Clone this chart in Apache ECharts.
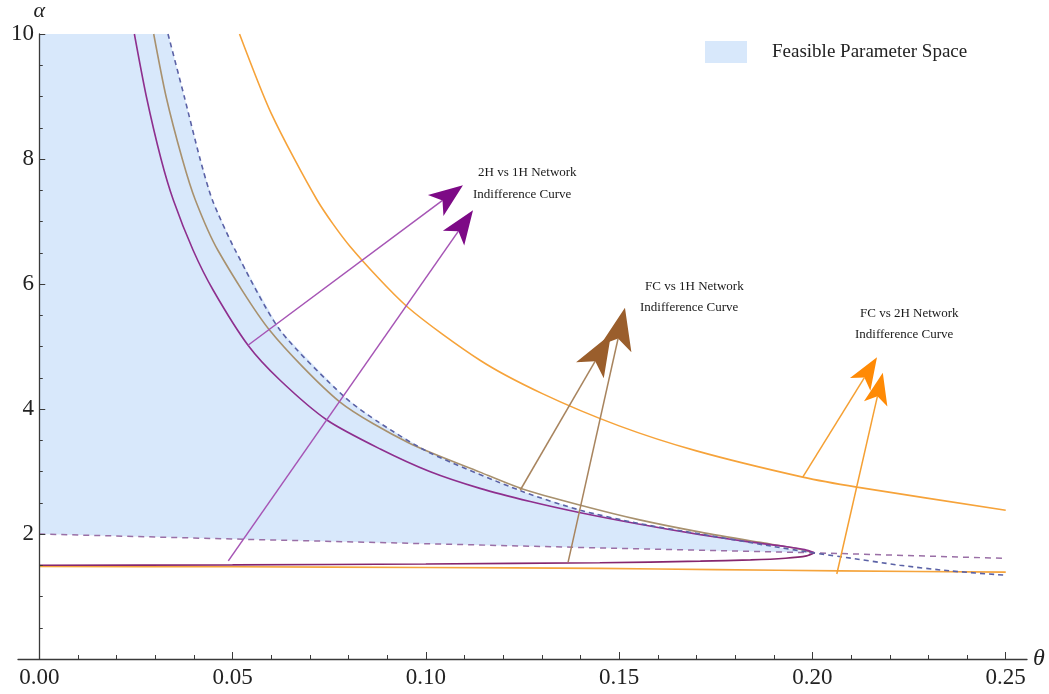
<!DOCTYPE html>
<html>
<head>
<meta charset="utf-8">
<script src="https://cdn.jsdelivr.net/npm/echarts@6/dist/echarts.min.js"></script>
<style>
  html, body { margin: 0; padding: 0; background: #ffffff; }
  #chart { width: 1049px; height: 694px; }
</style>
</head>
<body>
<div id="chart"></div>
<script>
// ---- curves, as [theta, alpha] pairs ----
// 2H vs 1H indifference curve, upper branch down to the tip
const curve2Hvs1HUpper = [
  [0.0246, 10], [0.0277, 9.0], [0.0315, 8.0], [0.0347, 7.34], [0.0398, 6.54], [0.0450, 5.90],
  [0.0540, 5.02], [0.0623, 4.46], [0.0745, 3.82], [0.0882, 3.36], [0.1010, 3.00], [0.1140, 2.73],
  [0.1270, 2.52], [0.1400, 2.34], [0.1550, 2.16], [0.1710, 1.99], [0.1840, 1.87], [0.1930, 1.80],
  [0.1980, 1.75], [0.2005, 1.70]
];
// 2H vs 1H indifference curve, lower branch from the tip back to theta = 0
const curve2Hvs1HLower = [
  [0.2005, 1.70], [0.1985, 1.650], [0.1930, 1.612], [0.1840, 1.585], [0.1710, 1.565], [0.1450, 1.540],
  [0.1000, 1.520], [0.0500, 1.505], [0.0000, 1.500]
];
// FC vs 1H indifference curve
const curveFCvs1H = [
  [0.0296, 10], [0.0328, 9.0], [0.0370, 8.0], [0.0404, 7.34], [0.0462, 6.54], [0.0596, 5.26],
  [0.0778, 4.11], [0.0955, 3.46], [0.1140, 2.99], [0.1250, 2.72], [0.1400, 2.46], [0.1550, 2.23],
  [0.1710, 2.03], [0.1860, 1.87], [0.1950, 1.78], [0.2005, 1.70]
];
// dashed upper boundary of the feasible region
const boundaryUpper = [
  [0.0333, 10], [0.0375, 9.0], [0.0416, 8.0], [0.0448, 7.34], [0.0507, 6.54], [0.0623, 5.26],
  [0.0790, 4.19], [0.0880, 3.78], [0.1010, 3.30], [0.1250, 2.68], [0.1400, 2.38], [0.1550, 2.17],
  [0.1710, 2.00], [0.1880, 1.82], [0.2000, 1.70], [0.2070, 1.64], [0.2226, 1.50], [0.2355, 1.41],
  [0.2500, 1.34]
];
// dashed lower boundary of the feasible region
const boundaryLower = [
  [0.00, 2.00], [0.05, 1.92], [0.10, 1.845], [0.15, 1.77], [0.20, 1.70], [0.25, 1.61]
];
// FC vs 2H indifference curve, upper branch
const curveFCvs2H = [
  [0.0518, 10], [0.0600, 8.73], [0.0719, 7.34], [0.0804, 6.60], [0.0951, 5.64], [0.1140, 4.78],
  [0.1300, 4.25], [0.1500, 3.73], [0.1700, 3.33], [0.1975, 2.91], [0.2115, 2.75], [0.2500, 2.38]
];
// FC vs 2H indifference curve, lower branch
const floorFCvs2H = [
  [0.000, 1.48], [0.050, 1.475], [0.100, 1.465], [0.145, 1.45], [0.175, 1.43], [0.207, 1.41], [0.250, 1.39]
];

// ---- ticks ----
const xMajorTicks = [0, 0.05, 0.10, 0.15, 0.20, 0.25];
const xMinorTicks = [0.01, 0.02, 0.03, 0.04, 0.06, 0.07, 0.08, 0.09, 0.11, 0.12, 0.13, 0.14,
                     0.16, 0.17, 0.18, 0.19, 0.21, 0.22, 0.23, 0.24];

// ---- callouts: [from theta, from alpha, to theta, to alpha] ----
const arrows2Hvs1H = [[0.0540, 5.02, 0.1096, 7.58], [0.0489, 1.57, 0.1122, 7.18]];
const arrowsFCvs1H = [[0.1244, 2.70, 0.1479, 5.20], [0.1368, 1.55, 0.1515, 5.62]];
const arrowsFCvs2H = [[0.1975, 2.91, 0.2167, 4.83], [0.2063, 1.36, 0.2182, 4.58]];
const notes2Hvs1H = [['2H vs 1H Network', 0.1135, 7.776], ['Indifference Curve', 0.1122, 7.424]];
const notesFCvs1H = [['FC vs 1H Network', 0.1567, 5.952], ['Indifference Curve', 0.1554, 5.616]];
const notesFCvs2H = [['FC vs 2H Network', 0.2123, 5.520], ['Indifference Curve', 0.2110, 5.184]];

const SERIF = '"Liberation Serif", "Times New Roman", serif';

function arrowSeries(data, lineColor, headColor, headLen, headWidth) {
  return {
    type: 'custom',
    silent: true,
    z: 6,
    data: data,
    renderItem: function (params, api) {
      const p0 = api.coord([api.value(0), api.value(1)]);
      const p1 = api.coord([api.value(2), api.value(3)]);
      const dx = p1[0] - p0[0], dy = p1[1] - p0[1];
      const len = Math.hypot(dx, dy);
      const ux = dx / len, uy = dy / len, nx = -uy, ny = ux;
      const w = headWidth / 2, notch = headLen * 0.75;
      const bx = p1[0] - ux * headLen, by = p1[1] - uy * headLen;
      return {
        type: 'group',
        children: [
          { type: 'line',
            shape: { x1: p0[0], y1: p0[1], x2: p1[0] - ux * notch, y2: p1[1] - uy * notch },
            style: { stroke: lineColor, lineWidth: 1.5 } },
          { type: 'polygon',
            shape: { points: [p1, [bx + nx * w, by + ny * w],
                              [p1[0] - ux * notch, p1[1] - uy * notch],
                              [bx - nx * w, by - ny * w]] },
            style: { fill: headColor } }
        ]
      };
    }
  };
}

function noteSeries(data) {
  return {
    type: 'custom',
    silent: true,
    z: 7,
    data: data,
    renderItem: function (params, api) {
      const item = data[params.dataIndex];
      const p = api.coord([item[1], item[2]]);
      return {
        type: 'text',
        x: p[0], y: p[1],
        style: { text: item[0], fill: '#1a1a1a', font: '13px ' + SERIF,
                 textAlign: 'left', textVerticalAlign: 'middle' }
      };
    },
    encode: { x: 1, y: 2 }
  };
}

const lineBase = { type: 'line', showSymbol: false, symbol: 'none', silent: true, smooth: 0.25, z: 4 };

const chart = echarts.init(document.getElementById('chart'), null, { renderer: 'canvas' });

chart.setOption({
  animation: false,
  backgroundColor: '#ffffff',
  grid: { left: 18, right: 22, top: 34, bottom: 35, containLabel: false, outerBoundsMode: 'none' },
  legend: {
    data: ['Feasible Parameter Space'],
    left: 700, top: 36,
    icon: 'rect', itemWidth: 42, itemHeight: 22,
    selectedMode: false,
    textStyle: { fontFamily: SERIF, fontSize: 19, color: '#222222', padding: [0, 0, 0, 20] }
  },
  xAxis: [{
    type: 'value', min: -0.0055, max: 0.2555, z: 8,
    name: 'θ', nameLocation: 'end', nameGap: 6,
    nameTextStyle: { fontFamily: SERIF, fontSize: 24, fontStyle: 'italic', color: '#222222',
                     verticalAlign: 'middle' },
    axisLine: { onZero: false, lineStyle: { color: '#3a3a3a', width: 1.3 } },
    axisTick: { inside: true, length: 7, customValues: xMajorTicks, lineStyle: { color: '#3a3a3a' } },
    axisLabel: { customValues: xMajorTicks, margin: 7, color: '#222222', fontFamily: SERIF, fontSize: 23,
                 formatter: function (v) { return v.toFixed(2); } },
    splitLine: { show: false }
  }, {
    type: 'value', min: -0.0055, max: 0.2555, position: 'bottom', z: 8,
    axisLine: { show: false, onZero: false },
    axisTick: { inside: true, length: 4, customValues: xMinorTicks, lineStyle: { color: '#3a3a3a' } },
    axisLabel: { show: false },
    splitLine: { show: false }
  }],
  yAxis: {
    type: 'value', min: 0, max: 10, interval: 2, z: 8,
    name: 'α', nameLocation: 'end', nameGap: 8,
    nameTextStyle: { fontFamily: SERIF, fontSize: 22, fontStyle: 'italic', color: '#222222' },
    axisLine: { show: true, onZero: true, lineStyle: { color: '#3a3a3a', width: 1.3 } },
    axisTick: { show: true, inside: true, length: 6, lineStyle: { color: '#3a3a3a' } },
    minorTick: { show: true, splitNumber: 4, length: 3.5, lineStyle: { color: '#3a3a3a' } },
    axisLabel: { margin: -16, color: '#222222', fontFamily: SERIF, fontSize: 23,
                 formatter: function (v) { return v === 0 ? '' : String(v); } },
    splitLine: { show: false }
  },
  series: [
    {
      // feasible region: between the two dashed boundaries, left of the tip
      name: 'Feasible Parameter Space',
      type: 'custom',
      silent: true,
      z: 1,
      itemStyle: { color: '#d8e8fb' },
      data: [0],
      renderItem: function (params, api) {
        const pts = [api.coord([0, 10])];
        for (const p of boundaryUpper) { if (p[0] <= 0.2) pts.push(api.coord(p)); }
        for (let i = boundaryLower.length - 1; i >= 0; i--) {
          if (boundaryLower[i][0] <= 0.2) pts.push(api.coord(boundaryLower[i]));
        }
        return { type: 'polygon', shape: { points: pts }, style: { fill: '#d8e8fb' } };
      }
    },
    Object.assign({}, lineBase, { name: 'Lower boundary', data: boundaryLower, smooth: false,
      lineStyle: { color: '#9a6fa6', width: 1.5, type: [6, 5] } }),
    Object.assign({}, lineBase, { name: 'FC vs 2H lower', data: floorFCvs2H,
      lineStyle: { color: '#f5a43c', width: 1.6 } }),
    Object.assign({}, lineBase, { name: 'FC vs 2H', data: curveFCvs2H,
      lineStyle: { color: '#f6a33a', width: 1.6 } }),
    Object.assign({}, lineBase, { name: 'FC vs 1H', data: curveFCvs1H,
      lineStyle: { color: '#a8916e', width: 1.6 } }),
    Object.assign({}, lineBase, { name: '2H vs 1H lower', data: curve2Hvs1HLower,
      lineStyle: { color: '#86266e', width: 1.7 } }),
    Object.assign({}, lineBase, { name: '2H vs 1H', data: curve2Hvs1HUpper,
      lineStyle: { color: '#8e2f8e', width: 1.6 } }),
    Object.assign({}, lineBase, { name: 'Upper boundary', data: boundaryUpper,
      lineStyle: { color: '#5b62a6', width: 1.6, type: [5, 4] } }),
    arrowSeries(arrows2Hvs1H, '#a655b5', '#7d0a86', 34, 26),
    arrowSeries(arrowsFCvs1H, '#a8845e', '#9a5e2c', 42, 32),
    arrowSeries(arrowsFCvs2H, '#f5a033', '#ff8a05', 32, 24),
    noteSeries(notes2Hvs1H),
    noteSeries(notesFCvs1H),
    noteSeries(notesFCvs2H)
  ]
});
</script>
</body>
</html>
